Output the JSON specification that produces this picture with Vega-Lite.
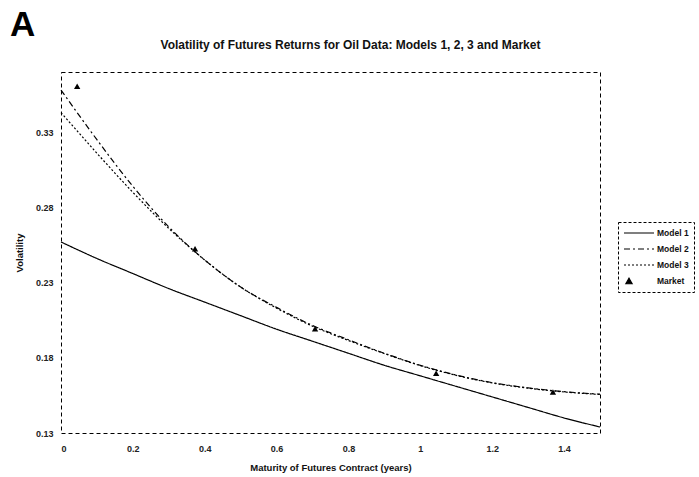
{
  "$schema": "https://vega.github.io/schema/vega-lite/v6.json",
  "width": 539,
  "height": 361,
  "autosize": {"type": "none"},
  "padding": {"left": 61, "top": 72, "right": 99, "bottom": 44},
  "background": "white",
  "config": {
    "font": "Liberation Sans",
    "view": {"stroke": "black", "strokeDash": [4, 3], "strokeWidth": 1},
    "axis": {
      "grid": false, "domain": false, "ticks": false,
      "labelFont": "Liberation Sans", "labelFontSize": 9, "labelFontWeight": "bold", "labelColor": "#222",
      "titleFont": "Liberation Sans", "titleFontSize": 9.5, "titleFontWeight": "bold", "titleColor": "#111"
    }
  },
  "title": {
    "text": "A", "anchor": "start", "frame": "group", "dx": -51, "dy": 34, "offset": 1,
    "baseline": "alphabetic", "fontSize": 35, "fontWeight": "bold", "font": "Liberation Sans", "color": "black"
  },
  "layer": [
    {
      "data": {"values": [
        {"series": "Model 1", "T": 0.0, "vol": 0.257},
        {"series": "Model 1", "T": 0.1, "vol": 0.246},
        {"series": "Model 1", "T": 0.2, "vol": 0.236},
        {"series": "Model 1", "T": 0.3, "vol": 0.226},
        {"series": "Model 1", "T": 0.4, "vol": 0.217},
        {"series": "Model 1", "T": 0.5, "vol": 0.208},
        {"series": "Model 1", "T": 0.6, "vol": 0.199},
        {"series": "Model 1", "T": 0.7, "vol": 0.191},
        {"series": "Model 1", "T": 0.8, "vol": 0.183},
        {"series": "Model 1", "T": 0.9, "vol": 0.175},
        {"series": "Model 1", "T": 1.0, "vol": 0.168},
        {"series": "Model 1", "T": 1.1, "vol": 0.161},
        {"series": "Model 1", "T": 1.2, "vol": 0.154},
        {"series": "Model 1", "T": 1.3, "vol": 0.147},
        {"series": "Model 1", "T": 1.4, "vol": 0.140},
        {"series": "Model 1", "T": 1.5, "vol": 0.134},
        {"series": "Model 2", "T": 0.0, "vol": 0.358},
        {"series": "Model 2", "T": 0.1, "vol": 0.325},
        {"series": "Model 2", "T": 0.2, "vol": 0.294},
        {"series": "Model 2", "T": 0.3, "vol": 0.267},
        {"series": "Model 2", "T": 0.4, "vol": 0.245},
        {"series": "Model 2", "T": 0.5, "vol": 0.227},
        {"series": "Model 2", "T": 0.6, "vol": 0.2135},
        {"series": "Model 2", "T": 0.7, "vol": 0.2015},
        {"series": "Model 2", "T": 0.8, "vol": 0.192},
        {"series": "Model 2", "T": 0.9, "vol": 0.183},
        {"series": "Model 2", "T": 1.0, "vol": 0.175},
        {"series": "Model 2", "T": 1.1, "vol": 0.1685},
        {"series": "Model 2", "T": 1.2, "vol": 0.1635},
        {"series": "Model 2", "T": 1.3, "vol": 0.16},
        {"series": "Model 2", "T": 1.4, "vol": 0.1575},
        {"series": "Model 2", "T": 1.5, "vol": 0.1558},
        {"series": "Model 3", "T": 0.0, "vol": 0.343},
        {"series": "Model 3", "T": 0.1, "vol": 0.316},
        {"series": "Model 3", "T": 0.2, "vol": 0.29},
        {"series": "Model 3", "T": 0.3, "vol": 0.266},
        {"series": "Model 3", "T": 0.4, "vol": 0.245},
        {"series": "Model 3", "T": 0.5, "vol": 0.227},
        {"series": "Model 3", "T": 0.6, "vol": 0.213},
        {"series": "Model 3", "T": 0.7, "vol": 0.201},
        {"series": "Model 3", "T": 0.8, "vol": 0.1915},
        {"series": "Model 3", "T": 0.9, "vol": 0.1828},
        {"series": "Model 3", "T": 1.0, "vol": 0.1748},
        {"series": "Model 3", "T": 1.1, "vol": 0.1683},
        {"series": "Model 3", "T": 1.2, "vol": 0.1633},
        {"series": "Model 3", "T": 1.3, "vol": 0.1598},
        {"series": "Model 3", "T": 1.4, "vol": 0.1573},
        {"series": "Model 3", "T": 1.5, "vol": 0.1556}
      ]},
      "mark": {"type": "line", "color": "black", "strokeWidth": 1.2, "interpolate": "monotone"},
      "encoding": {
        "x": {
          "field": "T", "type": "quantitative",
          "scale": {"domain": [0, 1.5], "nice": false, "zero": false},
          "axis": {
            "orient": "bottom", "values": [0, 0.2, 0.4, 0.6, 0.8, 1, 1.2, 1.4], "format": ".1~f",
            "labelPadding": 11, "title": "Maturity of Futures Contract (years)", "titlePadding": 9
          }
        },
        "y": {
          "field": "vol", "type": "quantitative",
          "scale": {"domain": [0.13, 0.37], "nice": false, "zero": false},
          "axis": {
            "values": [0.13, 0.18, 0.23, 0.28, 0.33], "format": ".2f",
            "labelPadding": 8, "title": "Volatility", "titlePadding": 11
          }
        },
        "strokeDash": {
          "field": "series", "type": "nominal",
          "scale": {"domain": ["Model 1", "Model 2", "Model 3", "Market"], "range": [[1, 0], [6, 3, 2, 3], [2, 2], [1, 0]]},
          "legend": {
            "orient": "none", "legendX": 557, "legendY": 150, "title": null,
            "strokeColor": "black", "padding": 5, "labelFont": "Liberation Sans", "labelFontSize": 8.5,
            "labelFontWeight": "bold", "labelColor": "#111", "symbolStrokeWidth": 1.2, "symbolFillColor": "black",
            "symbolStrokeColor": "black", "rowPadding": 5, "labelOffset": 22, "symbolSize": 100,
            "encode": {
              "symbols": {"update": {"size": {"signal": "datum.value === 'Market' ? 40 : 100"}}},
              "legend": {"update": {"strokeDash": {"value": [3, 2]}}}
            }
          }
        }
      }
    },
    {
      "data": {"values": [
        {"series": "Market", "T": 0.045, "vol": 0.3605},
        {"series": "Market", "T": 0.373, "vol": 0.2525},
        {"series": "Market", "T": 0.707, "vol": 0.1993},
        {"series": "Market", "T": 1.044, "vol": 0.1697},
        {"series": "Market", "T": 1.369, "vol": 0.1572}
      ]},
      "mark": {"type": "point", "filled": true, "color": "black", "size": 40, "opacity": 1},
      "encoding": {
        "x": {
          "field": "T", "type": "quantitative",
          "scale": {"domain": [0, 1.5], "nice": false, "zero": false},
          "axis": {
            "orient": "top", "labels": false, "values": [],
            "title": "Volatility of Futures Returns for Oil Data: Models 1, 2, 3 and Market",
            "titleFontSize": 12, "titlePadding": 21, "titleX": 289, "titleAlign": "center"
          }
        },
        "y": {
          "field": "vol", "type": "quantitative",
          "scale": {"domain": [0.13, 0.37], "nice": false, "zero": false},
          "axis": {
            "values": [0.13, 0.18, 0.23, 0.28, 0.33], "format": ".2f",
            "labelPadding": 8, "title": "Volatility", "titlePadding": 11
          }
        },
        "shape": {
          "field": "series", "type": "nominal",
          "scale": {"domain": ["Model 1", "Model 2", "Model 3", "Market"], "range": ["M-1,0H5", "M-1,0H5", "M-1,0H5", "triangle-up"]},
          "legend": {
            "orient": "none", "legendX": 557, "legendY": 150, "title": null,
            "strokeColor": "black", "padding": 5, "labelFont": "Liberation Sans", "labelFontSize": 8.5,
            "labelFontWeight": "bold", "labelColor": "#111", "symbolStrokeWidth": 1.2, "symbolFillColor": "black",
            "symbolStrokeColor": "black", "rowPadding": 5, "labelOffset": 22, "symbolSize": 100,
            "encode": {
              "symbols": {"update": {"size": {"signal": "datum.value === 'Market' ? 40 : 100"}}},
              "legend": {"update": {"strokeDash": {"value": [3, 2]}}}
            }
          }
        },
        "strokeDash": {
          "field": "series", "type": "nominal",
          "scale": {"domain": ["Model 1", "Model 2", "Model 3", "Market"], "range": [[1, 0], [6, 3, 2, 3], [2, 2], [1, 0]]}
        }
      }
    }
  ],
  "resolve": {"axis": {"x": "independent"}}
}
